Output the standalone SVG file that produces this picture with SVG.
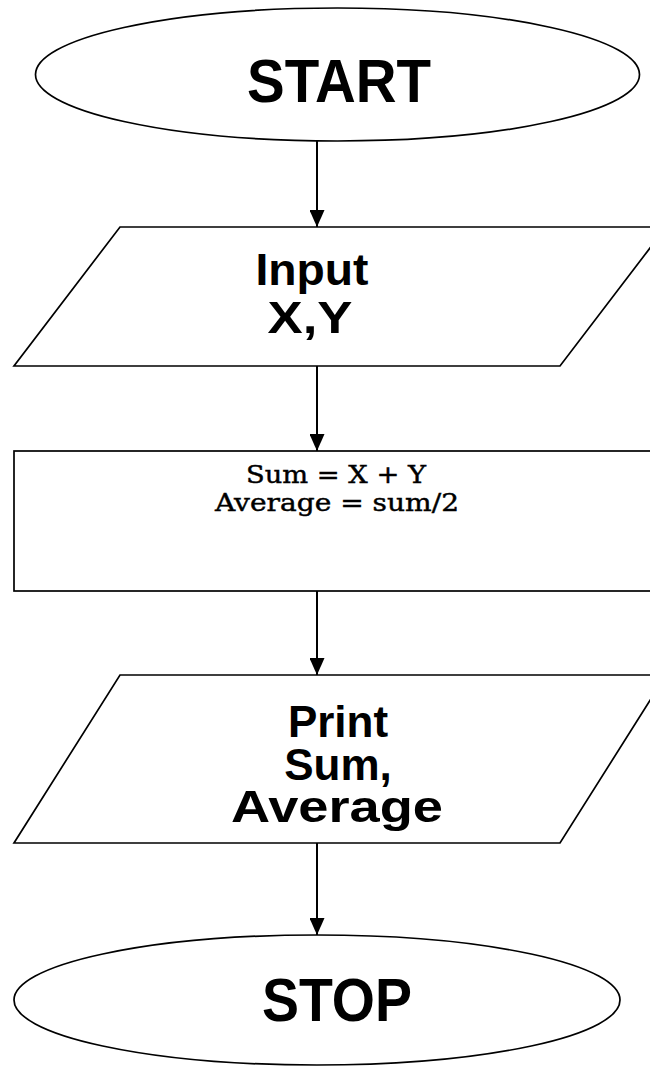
<svg xmlns="http://www.w3.org/2000/svg" width="650" height="1066" viewBox="0 0 650 1066">
<style>
.shape{fill:#fff;stroke:#000;stroke-width:1.7}
.edge{stroke:#000;stroke-width:2;fill:none}
.sans{font-family:"Liberation Sans",Arial,sans-serif;fill:#000;text-anchor:middle}
.bold{font-weight:bold}
.serif{font-family:"DejaVu Serif","Liberation Serif",serif;fill:#000;stroke:#000;stroke-width:0.45;text-anchor:middle}
</style>
<defs>
<marker id="arrow" markerWidth="17" markerHeight="15" refX="17" refY="7.5" orient="auto" markerUnits="userSpaceOnUse" viewBox="0 0 17 15">
<path d="M0,0 L17,7.5 L0,15 Z" fill="#000"/>
</marker>
</defs>
<rect width="650" height="1066" fill="#fff"/>
<g id="connectors">
<line class="edge" x1="317" y1="141" x2="317" y2="227" marker-end="url(#arrow)"/>
<line class="edge" x1="317" y1="366" x2="317" y2="451" marker-end="url(#arrow)"/>
<line class="edge" x1="317" y1="591" x2="317" y2="675" marker-end="url(#arrow)"/>
<line class="edge" x1="317" y1="843" x2="317" y2="935" marker-end="url(#arrow)"/>
</g>
<g id="start">
<ellipse class="shape" cx="337.5" cy="74.5" rx="302" ry="66.5"/>
<text class="sans bold" x="339" y="102" font-size="61" textLength="184" lengthAdjust="spacingAndGlyphs">START</text>
</g>
<g id="input">
<polygon class="shape" points="120,227 666,227 560,366 14,366"/>
<text class="sans bold" x="312" y="285" font-size="44" textLength="113" lengthAdjust="spacingAndGlyphs">Input</text>
<text class="sans bold" x="310" y="333" font-size="44" textLength="85" lengthAdjust="spacingAndGlyphs">X,Y</text>
</g>
<g id="process">
<rect class="shape" x="14" y="451" width="660" height="140"/>
<text class="serif" x="336" y="483" font-size="25" textLength="180" lengthAdjust="spacingAndGlyphs">Sum = X + Y</text>
<text class="serif" x="337" y="511" font-size="25" textLength="244" lengthAdjust="spacingAndGlyphs">Average = sum/2</text>
</g>
<g id="print">
<polygon class="shape" points="120,675 666,675 560,843 14,843"/>
<text class="sans bold" x="338" y="737" font-size="44">Print</text>
<text class="sans bold" x="338" y="780" font-size="44">Sum,</text>
<text class="sans bold" x="337" y="822" font-size="44" textLength="212" lengthAdjust="spacingAndGlyphs">Average</text>
</g>
<g id="stop">
<ellipse class="shape" cx="317" cy="1000" rx="303" ry="65"/>
<text class="sans bold" x="337" y="1021" font-size="61" textLength="150" lengthAdjust="spacingAndGlyphs">STOP</text>
</g>
</svg>
